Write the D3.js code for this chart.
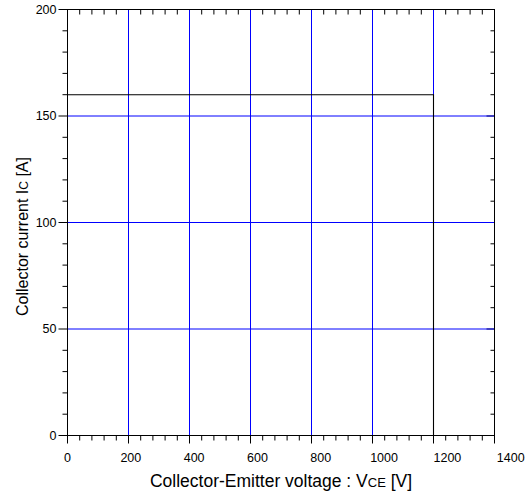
<!DOCTYPE html>
<html>
<head>
<meta charset="utf-8">
<script src="https://cdn.jsdelivr.net/npm/d3@7"></script>
<style>
  html, body { margin: 0; padding: 0; background: #fff; }
  svg { display: block; font-family: "Liberation Sans", Arial, sans-serif; }
</style>
</head>
<body>
<svg id="chart" width="528" height="494"></svg>
<script>
// ---- data ----
const xDomain = [0, 1400];
const yDomain = [0, 200];
const xTickValues = [0, 200, 400, 600, 800, 1000, 1200, 1400];
const yTickValues = [0, 50, 100, 150, 200];
const xGridValues = [200, 400, 600, 800, 1000, 1200];
const yGridValues = [50, 100, 150];
const soaVce = [0, 1200, 1200];
const soaIc = [160, 160, 0];
const xTitle = ["Collector-Emitter voltage : V", "CE", " [V]"];
const yTitle = ["Collector current I", "C", " [A]"];

// ---- layout ----
const svg = d3.select("#chart");
const L = 67.5, R = 494.5, T = 9.5, B = 435.5;
const x = d3.scaleLinear().domain(xDomain).range([L, R]);
const y = d3.scaleLinear().domain(yDomain).range([B, T]);
// labels in the reference are spaced slightly wider than the ticks
const xLab = d3.scaleLinear().domain(xDomain).range([L, L + (R - L) * 1.038]);

const xMinor = d3.range(0, 1400 + 1, 40);
const yMinor = d3.range(0, 200 + 1, 10);
const isMajX = d => d % 200 === 0;
const isMajY = d => d % 50 === 0;

// ticks
const tickG = svg.append("g").attr("class", "ticks");
tickG.selectAll("line.tb").data(xMinor).join("line").attr("class", "tb")
  .attr("x1", d => x(d)).attr("x2", d => x(d))
  .attr("y1", B).attr("y2", d => B + (isMajX(d) ? 8 : 5));
tickG.selectAll("line.tt").data(xMinor).join("line").attr("class", "tt")
  .attr("x1", d => x(d)).attr("x2", d => x(d))
  .attr("y1", T).attr("y2", d => T + (isMajX(d) ? 8 : 5));
tickG.selectAll("line.tl").data(yMinor).join("line").attr("class", "tl")
  .attr("y1", d => y(d)).attr("y2", d => y(d))
  .attr("x1", L).attr("x2", d => L - (isMajY(d) ? 9 : 5));
tickG.selectAll("line.tr").data(yMinor).join("line").attr("class", "tr")
  .attr("y1", d => y(d)).attr("y2", d => y(d))
  .attr("x1", R).attr("x2", d => R - (isMajY(d) ? 8 : 4));
tickG.selectAll("line").attr("stroke", "#000").attr("stroke-width", 1);

// gridlines
const gridG = svg.append("g").attr("class", "grid");
gridG.selectAll("line.gx").data(xGridValues).join("line").attr("class", "gx")
  .attr("x1", d => x(d)).attr("x2", d => x(d)).attr("y1", T).attr("y2", B)
  .attr("stroke", "#0000ff").attr("stroke-width", 1);
gridG.selectAll("line.gy").data(yGridValues).join("line").attr("class", "gy")
  .attr("x1", L).attr("x2", R).attr("y1", d => y(d)).attr("y2", d => y(d))
  .attr("stroke", "#0000ff").attr("stroke-width", 1);

// SOA line
const line = d3.line().x(d => x(d[0])).y(d => y(d[1]));
svg.append("path")
  .datum(soaVce.map((v, i) => [v, soaIc[i]]))
  .attr("d", line).attr("fill", "none").attr("stroke", "#000").attr("stroke-width", 1.1);

// frame
svg.append("rect").attr("x", L).attr("y", T).attr("width", R - L).attr("height", B - T)
  .attr("fill", "none").attr("stroke", "#000").attr("stroke-width", 1);

// tick labels
svg.append("g").selectAll("text").data(xTickValues).join("text")
  .attr("x", d => xLab(d)).attr("y", 462)
  .attr("text-anchor", "middle").attr("font-size", 12.5).attr("fill", "#000")
  .text(d => d);
svg.append("g").selectAll("text").data(yTickValues).join("text")
  .attr("x", L - 11).attr("y", d => y(d)).attr("dy", "0.35em")
  .attr("text-anchor", "end").attr("font-size", 12.5).attr("fill", "#000")
  .text(d => d);

// axis titles
const xt = svg.append("text").attr("x", (L + R) / 2).attr("y", 487)
  .attr("text-anchor", "middle").attr("font-size", 17.5).attr("fill", "#000");
xt.append("tspan").text(xTitle[0]);
xt.append("tspan").attr("font-size", 13).text(xTitle[1]);
xt.append("tspan").text(xTitle[2]);

const yt = svg.append("text").attr("transform", `translate(27.5,${(T + B) / 2 + 14}) rotate(-90)`)
  .attr("text-anchor", "middle").attr("font-size", 16).attr("fill", "#000");
yt.append("tspan").text(yTitle[0]);
yt.append("tspan").attr("font-size", 12).text(yTitle[1]);
yt.append("tspan").text(yTitle[2]);
</script>
</body>
</html>
